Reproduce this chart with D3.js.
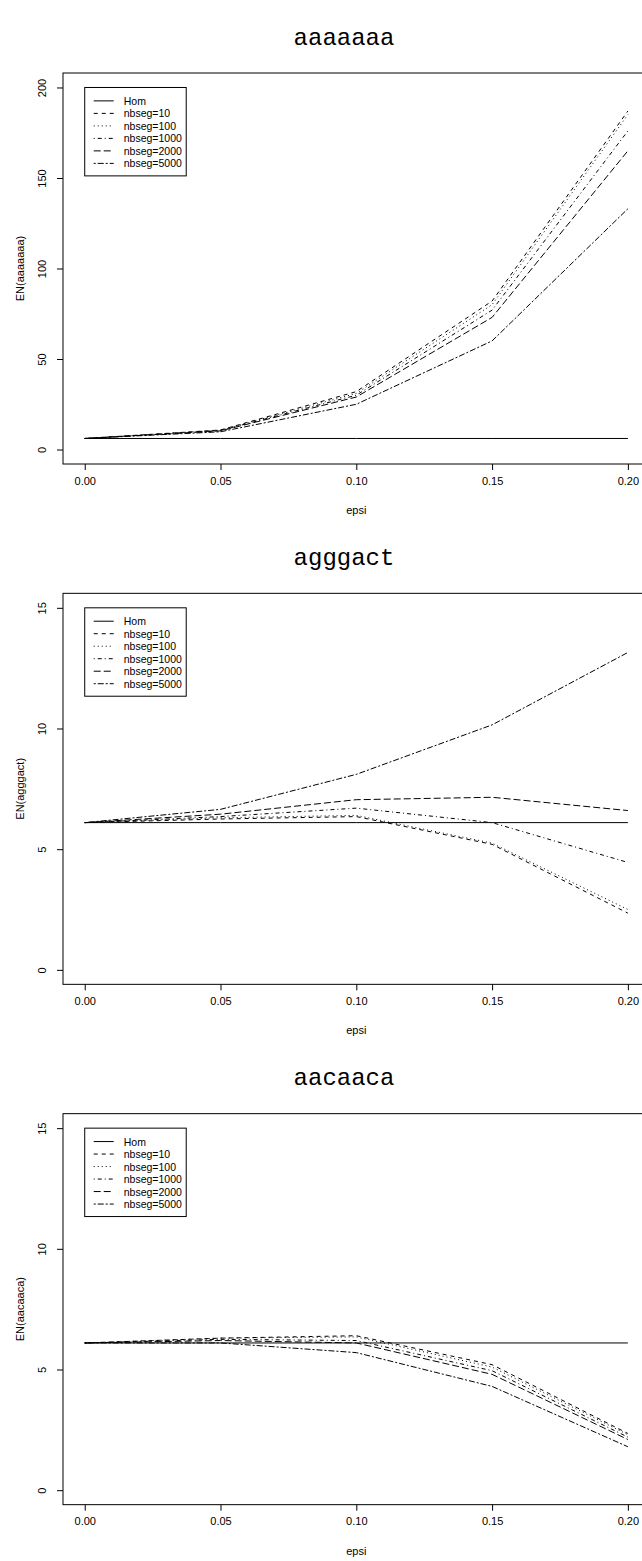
<!DOCTYPE html>
<html>
<head>
<meta charset="utf-8">
<script src="https://cdn.jsdelivr.net/npm/d3@7"></script>
<style>
  body { margin: 0; background: #fff; }
  svg { display: block; }
  text { font-family: "Liberation Sans", Arial, Helvetica, sans-serif; fill: #000; }
</style>
</head>
<body>
<div id="cntr"></div>
<script>
// data
const words = ["aaaaaaa", "agggact", "aacaaca"];
const seriesNames = ["Hom", "nbseg=10", "nbseg=100", "nbseg=1000", "nbseg=2000", "nbseg=5000"];
const epsi = [0, 0.05, 0.10, 0.15, 0.20];
const xTicks = [0, 0.05, 0.10, 0.15, 0.20];

// one row per series, same order as seriesNames
const aaaaaaaValues = [
    [6.1, 6.1, 6.1, 6.1, 6.1],
    [6.1, 10.8, 32, 82, 187],
    [6.1, 10.7, 31, 80, 185],
    [6.1, 10.5, 30, 77, 176],
    [6.1, 10.3, 29, 73, 165],
    [6.1, 9.8, 25, 60, 133]
];
const agggactValues = [
    [6.1, 6.1, 6.1, 6.1, 6.1],
    [6.1, 6.25, 6.35, 5.2, 2.35],
    [6.1, 6.3, 6.4, 5.25, 2.5],
    [6.1, 6.35, 6.7, 6.1, 4.45],
    [6.1, 6.45, 7.05, 7.15, 6.6],
    [6.1, 6.65, 8.1, 10.15, 13.15]
];
const aacaacaValues = [
    [6.1, 6.1, 6.1, 6.1, 6.1],
    [6.1, 6.3, 6.4, 5.2, 2.35],
    [6.1, 6.3, 6.35, 5.1, 2.3],
    [6.1, 6.25, 6.2, 4.95, 2.2],
    [6.1, 6.2, 6.1, 4.8, 2.1],
    [6.1, 6.1, 5.7, 4.3, 1.8]
];
const yLimits = [[0, 200], [0, 15], [0, 15]];
const yTicksA = [0, 50, 100, 150, 200];
const yTicksB = [0, 5, 10, 15];

const panelValues = [aaaaaaaValues, agggactValues, aacaacaValues];
const panelTicks = [yTicksA, yTicksB, yTicksB];

// R line types: solid, dashed, dotted, dotdash, longdash, twodash
const dashes = ["none", "4,4", "1,3", "1,3,4,3", "7,3", "2,2,6,2"];

const width = 642, height = 1561;
const panelH = height / 3;
const plot = {left: 63, right: 649.6, top: 73, bottom: 464};

const svg = d3.select("#cntr")
    .append("svg")
    .attr("width", width)
    .attr("height", height);

// R pads the data range by 4% on each side
const x = d3.scaleLinear()
    .domain([-0.008, 0.208])
    .range([plot.left, plot.right]);

words.forEach((word, p) => {
    const g = svg.append("g")
        .attr("transform", "translate(0," + (p * panelH) + ")");

    const [lo, hi] = yLimits[p];
    const pad = (hi - lo) * 0.04;
    const y = d3.scaleLinear()
        .domain([lo - pad, hi + pad])
        .range([plot.bottom, plot.top]);

    // title
    g.append("text")
        .attr("x", 344)
        .attr("y", 38)
        .attr("text-anchor", "middle")
        .attr("dominant-baseline", "central")
        .style("font-family", "'Courier New', Courier, 'Liberation Mono', monospace")
        .style("font-size", "24px")
        .text(word);

    // x axis
    g.append("g")
        .attr("transform", "translate(0," + plot.bottom + ")")
        .call(d3.axisBottom(x).tickValues(xTicks).tickFormat(d3.format(".2f"))
            .tickSize(6).tickPadding(7).tickSizeOuter(0))
        .call(a => a.select(".domain").remove())
        .call(a => a.selectAll("line").attr("stroke", "#000"))
        .call(a => a.selectAll("text").style("font-size", "11px")
            .style("font-family", "'Liberation Sans', Arial, sans-serif"));

    // y axis, labels parallel to the axis
    g.append("g")
        .attr("transform", "translate(" + plot.left + ",0)")
        .call(d3.axisLeft(y).tickValues(panelTicks[p]).tickSize(6).tickSizeOuter(0))
        .call(a => a.select(".domain").remove())
        .call(a => a.selectAll("line").attr("stroke", "#000"))
        .call(a => a.selectAll("text")
            .attr("x", null).attr("dy", null)
            .attr("transform", "translate(-21,0) rotate(-90)")
            .attr("text-anchor", "middle")
            .attr("dominant-baseline", "central")
            .style("font-size", "11px")
            .style("font-family", "'Liberation Sans', Arial, sans-serif"));

    // axis titles
    g.append("text")
        .attr("x", x(0.1))
        .attr("y", 510)
        .attr("text-anchor", "middle")
        .attr("dominant-baseline", "central")
        .style("font-size", "11px")
        .text("epsi");

    g.append("text")
        .attr("transform", "translate(20," + ((plot.top + plot.bottom) / 2) + ") rotate(-90)")
        .attr("text-anchor", "middle")
        .attr("dominant-baseline", "central")
        .style("font-size", "11px")
        .text("EN(" + word + ")");

    // series
    const line = d3.line()
        .x((d, i) => x(epsi[i]))
        .y(d => y(d));

    g.selectAll("path.series")
        .data(panelValues[p])
        .join("path")
            .attr("class", "series")
            .attr("d", line)
            .attr("fill", "none")
            .attr("stroke", "#000")
            .attr("stroke-width", 1)
            .attr("stroke-dasharray", (d, i) => dashes[i]);

    // plot box
    g.append("rect")
        .attr("x", plot.left)
        .attr("y", plot.top)
        .attr("width", plot.right - plot.left)
        .attr("height", plot.bottom - plot.top)
        .attr("fill", "none")
        .attr("stroke", "#000")
        .attr("stroke-width", 1);

    // legend at (0, ymax)
    const lx = x(0), ly = y(hi);
    const legend = g.append("g")
        .attr("transform", "translate(" + lx + "," + ly + ")");

    legend.append("rect")
        .attr("width", 101.5)
        .attr("height", 88.4)
        .attr("fill", "#fff")
        .attr("stroke", "#000")
        .attr("stroke-width", 1);

    const rows = legend.selectAll("g.row")
        .data(seriesNames)
        .join("g")
            .attr("class", "row")
            .attr("transform", (d, i) => "translate(0," + (13.4 + i * 12.5) + ")");

    rows.append("line")
        .attr("x1", 9).attr("x2", 29)
        .attr("stroke", "#000")
        .attr("stroke-width", 1)
        .attr("stroke-dasharray", (d, i) => dashes[i]);

    rows.append("text")
        .attr("x", 39)
        .attr("dominant-baseline", "central")
        .style("font-size", "10.5px")
        .text(d => d);
});
</script>
</body>
</html>
